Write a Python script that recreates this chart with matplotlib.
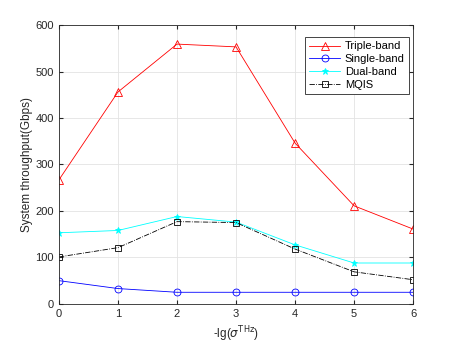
import matplotlib
matplotlib.use("Agg")
import matplotlib.pyplot as plt

x = [0, 1, 2, 3, 4, 5, 6]
triple = [267, 456, 559, 553, 346, 211, 161]
single = [50, 33, 25, 25, 25, 25, 25]
dual = [153, 158, 188, 176, 127, 88, 88]
mqis = [101, 121, 177, 175, 118, 69, 52]

plt.rcParams['font.family'] = ['Liberation Sans', 'DejaVu Sans']
fig = plt.figure(figsize=(4.57, 3.43), dpi=100)
ax = fig.add_axes([0.129, 0.114, 0.775, 0.813])
lw = 0.6
ax.plot(x, triple, color='#ff0000', marker='^', mfc='none', ms=6, mew=0.6, lw=lw, label='Triple-band')
ax.plot(x, single, color='#0000ff', marker='o', mfc='none', ms=5, mew=0.6, lw=lw, label='Single-band')
ax.plot(x, dual, color='#00ffff', marker='*', ms=5, mew=0.6, lw=lw, label='Dual-band')
ax.plot(x, mqis, color='black', marker='s', mfc='none', ms=4.5, mew=0.6, lw=lw, ls='-.', label='MQIS')
ax.set_xlim(0, 6)
ax.set_ylim(0, 600)
ax.set_xticks(range(7))
ax.set_yticks(range(0, 601, 100))
ax.grid(True, color='#e3e3e3', lw=0.6)
ax.set_axisbelow(True)
ax.tick_params(direction='in', labelsize=8, length=3, top=True, right=True, colors='#262626')
for s in ax.spines.values():
    s.set_color('#262626')
    s.set_linewidth(0.6)
ax.set_xlabel(r'-lg($\sigma^{\mathrm{THz}}$)', fontsize=8.5, color='#262626')
ax.set_ylabel('System throughput(Gbps)', fontsize=8.5, color='#262626', labelpad=2)
leg = ax.legend(loc='upper right', bbox_to_anchor=(0.989, 0.957), borderaxespad=0,
                fontsize=8, fancybox=False, edgecolor='#262626',
                framealpha=1, handlelength=2.8, handletextpad=0.4, labelspacing=0.25,
                borderpad=0.4)
leg.get_frame().set_linewidth(0.6)
fig.savefig('out.png', dpi=100)
